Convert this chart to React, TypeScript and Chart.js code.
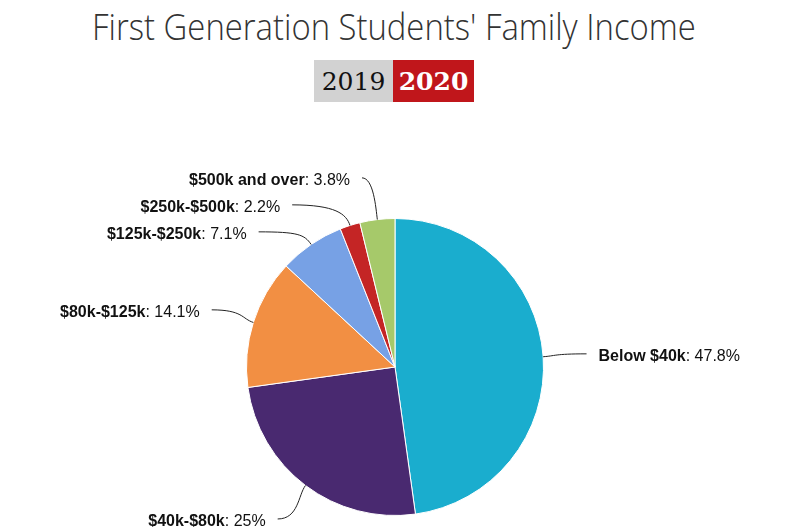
import React, { useEffect, useRef } from "react";
import { Chart, ArcElement, PieController } from "chart.js";

Chart.register(PieController, ArcElement);

const chartTitle = "First Generation Students' Family Income";
const years = ["2019", "2020"];
const categories = ["Below $40k", "$40k-$80k", "$80k-$125k", "$125k-$250k", "$250k-$500k", "$500k and over"];
const values = [47.8, 25, 14.1, 7.1, 2.2, 3.8];
const valueLabels = ["47.8%", "25%", "14.1%", "7.1%", "2.2%", "3.8%"];
const colors = ["#1aadce", "#492970", "#f28f43", "#77a1e5", "#c42525", "#a6c96a"];

const LABEL_FONT = "'Liberation Sans', Arial, sans-serif";
const LABEL_SIZE = 16;

const labelPlugin = {
  id: "pieLabels",
  afterDatasetsDraw(chart: any) {
    const ctx: CanvasRenderingContext2D = chart.ctx;
    const meta = chart.getDatasetMeta(0);
    const items = meta.data.map((arc: any, i: number) => {
      const p = arc.getProps(["x", "y", "startAngle", "endAngle", "outerRadius"], true);
      const mid = (p.startAngle + p.endAngle) / 2;
      const r = p.outerRadius;
      const ex = p.x + Math.cos(mid) * r;
      const ey = p.y + Math.sin(mid) * r;
      const side = Math.cos(mid) >= 0 ? 1 : -1;
      const Ry = r + 42;
      const Rx = r + 43.5;
      return { i, mid, r, Rx, ex, ey, side, cx: p.x, cy: p.y, ly: p.y + Math.sin(mid) * Ry, lx: 0 };
    });
    const GAP = 27;
    [-1, 1].forEach((s) => {
      const list = items.filter((it: any) => it.side === s).sort((a: any, b: any) => a.ly - b.ly);
      for (let k = 1; k < list.length; k++) {
        if (list[k].ly < list[k - 1].ly + GAP) list[k].ly = list[k - 1].ly + GAP;
      }
    });
    items.forEach((it: any) => {
      const dy = it.ly - it.cy;
      it.lx = it.cx + it.side * Math.sqrt(Math.max(it.Rx * it.Rx - dy * dy, 0));
    });
    ctx.save();
    items.forEach((it: any) => {
      ctx.beginPath();
      ctx.strokeStyle = "#222";
      ctx.lineWidth = 1;
      ctx.moveTo(it.lx, it.ly);
      const dir = -it.side;
      const dx = Math.abs(it.ex - it.lx);
      ctx.bezierCurveTo(
        it.lx + dir * dx * 0.75,
        it.ly,
        it.ex + Math.cos(it.mid) * 12,
        it.ey + Math.sin(it.mid) * 12,
        it.ex,
        it.ey
      );
      ctx.stroke();
      const name = categories[it.i];
      const val = ": " + valueLabels[it.i];
      ctx.textBaseline = "middle";
      ctx.fillStyle = "#111";
      ctx.font = `bold ${LABEL_SIZE}px ${LABEL_FONT}`;
      const wName = ctx.measureText(name).width;
      ctx.font = `${LABEL_SIZE}px ${LABEL_FONT}`;
      const wVal = ctx.measureText(val).width;
      const ty = it.ly + 3;
      const x0 = it.side < 0 ? it.lx - 12 - wName - wVal : it.lx + 12;
      ctx.textAlign = "left";
      ctx.font = `bold ${LABEL_SIZE}px ${LABEL_FONT}`;
      ctx.fillText(name, x0, ty);
      ctx.font = `${LABEL_SIZE}px ${LABEL_FONT}`;
      ctx.fillText(val, x0 + wName, ty);
    });
    ctx.restore();
  },
};

export default function App() {
  const ref = useRef<HTMLCanvasElement | null>(null);
  useEffect(() => {
    if (!ref.current) return;
    const chart = new Chart(ref.current, {
      type: "pie",
      data: {
        labels: categories,
        datasets: [
          {
            data: values,
            backgroundColor: colors,
            borderColor: "#ffffff",
            borderWidth: 1,
            hoverOffset: 0,
          },
        ],
      },
      options: {
        responsive: false,
        animation: false,
        events: [],
        layout: { padding: { top: 218, bottom: 11, left: 95, right: 105 } },
        plugins: { legend: { display: false }, tooltip: { enabled: false } },
      },
      plugins: [labelPlugin],
    });
    return () => chart.destroy();
  }, []);

  return (
    <div style={{ position: "fixed", left: 0, top: 0, width: 800, height: 527, background: "#fff", overflow: "hidden" }}>
      <div
        style={{
          position: "absolute",
          left: 0,
          top: 4,
          width: 788,
          textAlign: "center",
          whiteSpace: "nowrap",
          lineHeight: "46px",
        }}
      >
        <span
          style={{
            display: "inline-block",
            fontFamily: "'Open Sans', sans-serif",
            fontWeight: 300,
            fontSize: 36,
            color: "#333",
            transform: "scaleX(0.912)",
            transformOrigin: "center",
          }}
        >
          {chartTitle}
        </span>
      </div>
      <div style={{ position: "absolute", left: 314, top: 60, height: 42, display: "flex" }}>
        <div
          style={{
            width: 79,
            height: 42,
            background: "#d2d2d2",
            color: "#111",
            fontFamily: "'DejaVu Serif', serif",
            fontSize: 25,
            lineHeight: "44px",
            textAlign: "center",
          }}
        >
          {years[0]}
        </div>
        <div
          style={{
            width: 81,
            height: 42,
            background: "#c0161b",
            color: "#fff",
            fontFamily: "'DejaVu Serif', serif",
            fontWeight: "bold",
            fontSize: 25,
            lineHeight: "44px",
            textAlign: "center",
          }}
        >
          {years[1]}
        </div>
      </div>
      <canvas ref={ref} width={800} height={527} style={{ position: "absolute", left: 0, top: 0 }} />
    </div>
  );
}
